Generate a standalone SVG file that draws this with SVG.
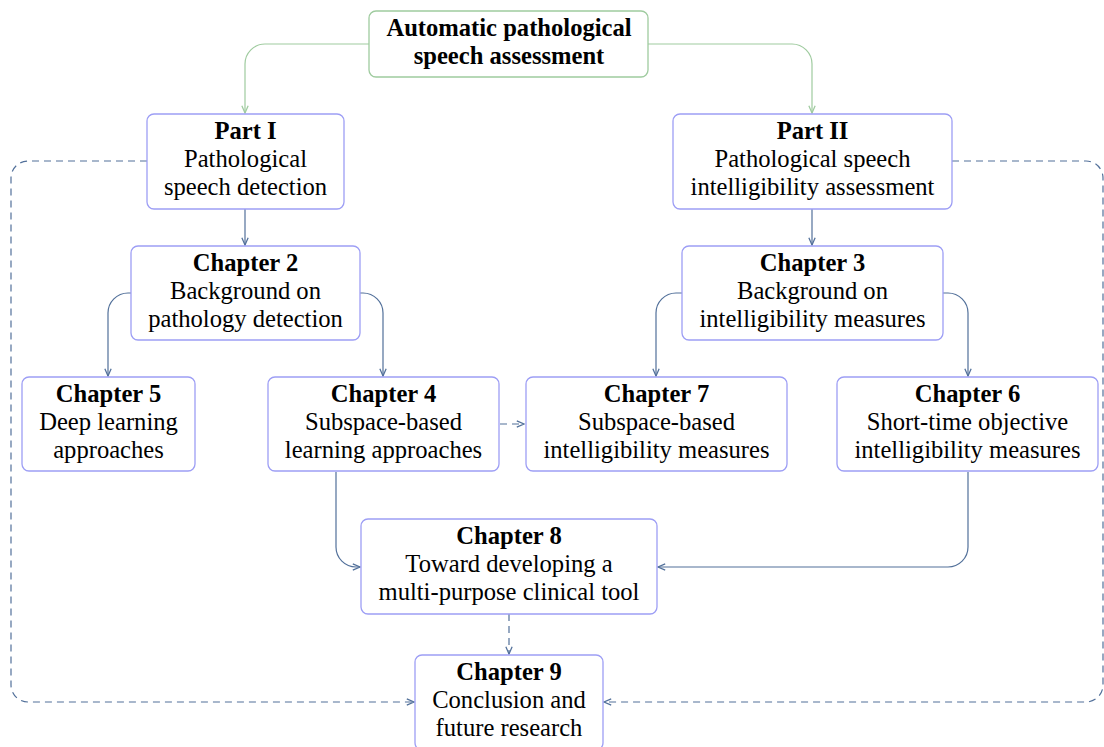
<svg xmlns="http://www.w3.org/2000/svg" width="1104" height="747" viewBox="0 0 1104 747">
  <style>
    .box { fill: #ffffff; stroke: #9d9ef5; stroke-width: 1.3; }
    .root { fill: #ffffff; stroke: #9fcb9f; stroke-width: 1.3; }
    text { font-family: "Liberation Serif", "Times New Roman", serif; font-size: 24.6px; fill: #000; text-anchor: middle; }
    .t { font-weight: bold; }
    .g { fill: none; stroke: #9fcb9f; stroke-width: 1.2; marker-end: url(#ag); }
    .c { fill: none; stroke: #52709a; stroke-width: 1.2; marker-end: url(#ab); }
    .d { fill: none; stroke: #52709a; stroke-width: 1.2; stroke-dasharray: 7 5; marker-end: url(#ab); }
  </style>
  <defs>
    <marker id="ab" viewBox="0 0 10 10" refX="9" refY="5" markerWidth="9" markerHeight="9" markerUnits="userSpaceOnUse" orient="auto">
      <path d="M1,1.5 L9,5 L1,8.5" fill="none" stroke="#52709a" stroke-width="1.4"/>
    </marker>
    <marker id="ag" viewBox="0 0 10 10" refX="9" refY="5" markerWidth="9" markerHeight="9" markerUnits="userSpaceOnUse" orient="auto">
      <path d="M1,1.5 L9,5 L1,8.5" fill="none" stroke="#9fcb9f" stroke-width="1.4"/>
    </marker>
  </defs>

  <!-- connectors -->
  <g id="connectors">
    <path class="g" d="M369,44 H265 A20,20 0 0 0 245,64 V113"/>
    <path class="g" d="M648,44 H792 A20,20 0 0 1 812,64 V113"/>
    <path class="c" d="M245,209 V245"/>
    <path class="c" d="M812,209 V245"/>
    <path class="c" d="M131,293 H128 A20,20 0 0 0 108,313 V376"/>
    <path class="c" d="M360,293 H363 A20,20 0 0 1 383,313 V376"/>
    <path class="c" d="M682,293 H676 A20,20 0 0 0 656,313 V376"/>
    <path class="c" d="M943,293 H948 A20,20 0 0 1 968,313 V376"/>
    <path class="d" d="M500,424 H524"/>
    <path class="c" d="M336,472 V547 A20,20 0 0 0 356,567 H360"/>
    <path class="c" d="M968,472 V547 A20,20 0 0 1 948,567 H658"/>
    <path class="d" d="M509,614 V654"/>
    <path class="d" d="M147,161 H28 A17,17 0 0 0 11,178 V685 A17,17 0 0 0 28,702 H414"/>
    <path class="d" d="M952,161 H1086 A17,17 0 0 1 1103,178 V685 A17,17 0 0 1 1086,702 H604"/>
  </g>

  <g id="root">
    <rect class="root" x="369" y="11" width="279" height="66" rx="7"/>
    <text class="t" x="509" y="36">Automatic pathological</text>
    <text class="t" x="509" y="64">speech assessment</text>
  </g>

  <g id="part1">
    <rect class="box" x="147" y="114" width="197" height="95" rx="7"/>
    <text class="t" x="245.5" y="139">Part I</text>
    <text x="245.5" y="167">Pathological</text>
    <text x="245.5" y="195">speech detection</text>
  </g>

  <g id="part2">
    <rect class="box" x="673" y="114" width="279" height="95" rx="7"/>
    <text class="t" x="812.5" y="139">Part II</text>
    <text x="812.5" y="167">Pathological speech</text>
    <text x="812.5" y="195">intelligibility assessment</text>
  </g>

  <g id="ch2">
    <rect class="box" x="131" y="246" width="229" height="94" rx="7"/>
    <text class="t" x="245.5" y="271">Chapter 2</text>
    <text x="245.5" y="299">Background on</text>
    <text x="245.5" y="327">pathology detection</text>
  </g>

  <g id="ch3">
    <rect class="box" x="682" y="246" width="261" height="94" rx="7"/>
    <text class="t" x="812.5" y="271">Chapter 3</text>
    <text x="812.5" y="299">Background on</text>
    <text x="812.5" y="327">intelligibility measures</text>
  </g>

  <g id="ch5">
    <rect class="box" x="22" y="377" width="173" height="94" rx="7"/>
    <text class="t" x="108.5" y="402">Chapter 5</text>
    <text x="108.5" y="430">Deep learning</text>
    <text x="108.5" y="458">approaches</text>
  </g>

  <g id="ch4">
    <rect class="box" x="268" y="377" width="231" height="94" rx="7"/>
    <text class="t" x="383.5" y="402">Chapter 4</text>
    <text x="383.5" y="430">Subspace-based</text>
    <text x="383.5" y="458">learning approaches</text>
  </g>

  <g id="ch7">
    <rect class="box" x="526" y="377" width="261" height="94" rx="7"/>
    <text class="t" x="656.5" y="402">Chapter 7</text>
    <text x="656.5" y="430">Subspace-based</text>
    <text x="656.5" y="458">intelligibility measures</text>
  </g>

  <g id="ch6">
    <rect class="box" x="837" y="377" width="261" height="94" rx="7"/>
    <text class="t" x="967.5" y="402">Chapter 6</text>
    <text x="967.5" y="430">Short-time objective</text>
    <text x="967.5" y="458">intelligibility measures</text>
  </g>

  <g id="ch8">
    <rect class="box" x="361" y="519" width="296" height="95" rx="7"/>
    <text class="t" x="509" y="544">Chapter 8</text>
    <text x="509" y="572">Toward developing a</text>
    <text x="509" y="600">multi-purpose clinical tool</text>
  </g>

  <g id="ch9">
    <rect class="box" x="415" y="655" width="188" height="95" rx="7"/>
    <text class="t" x="509" y="680">Chapter 9</text>
    <text x="509" y="708">Conclusion and</text>
    <text x="509" y="736">future research</text>
  </g>
</svg>
